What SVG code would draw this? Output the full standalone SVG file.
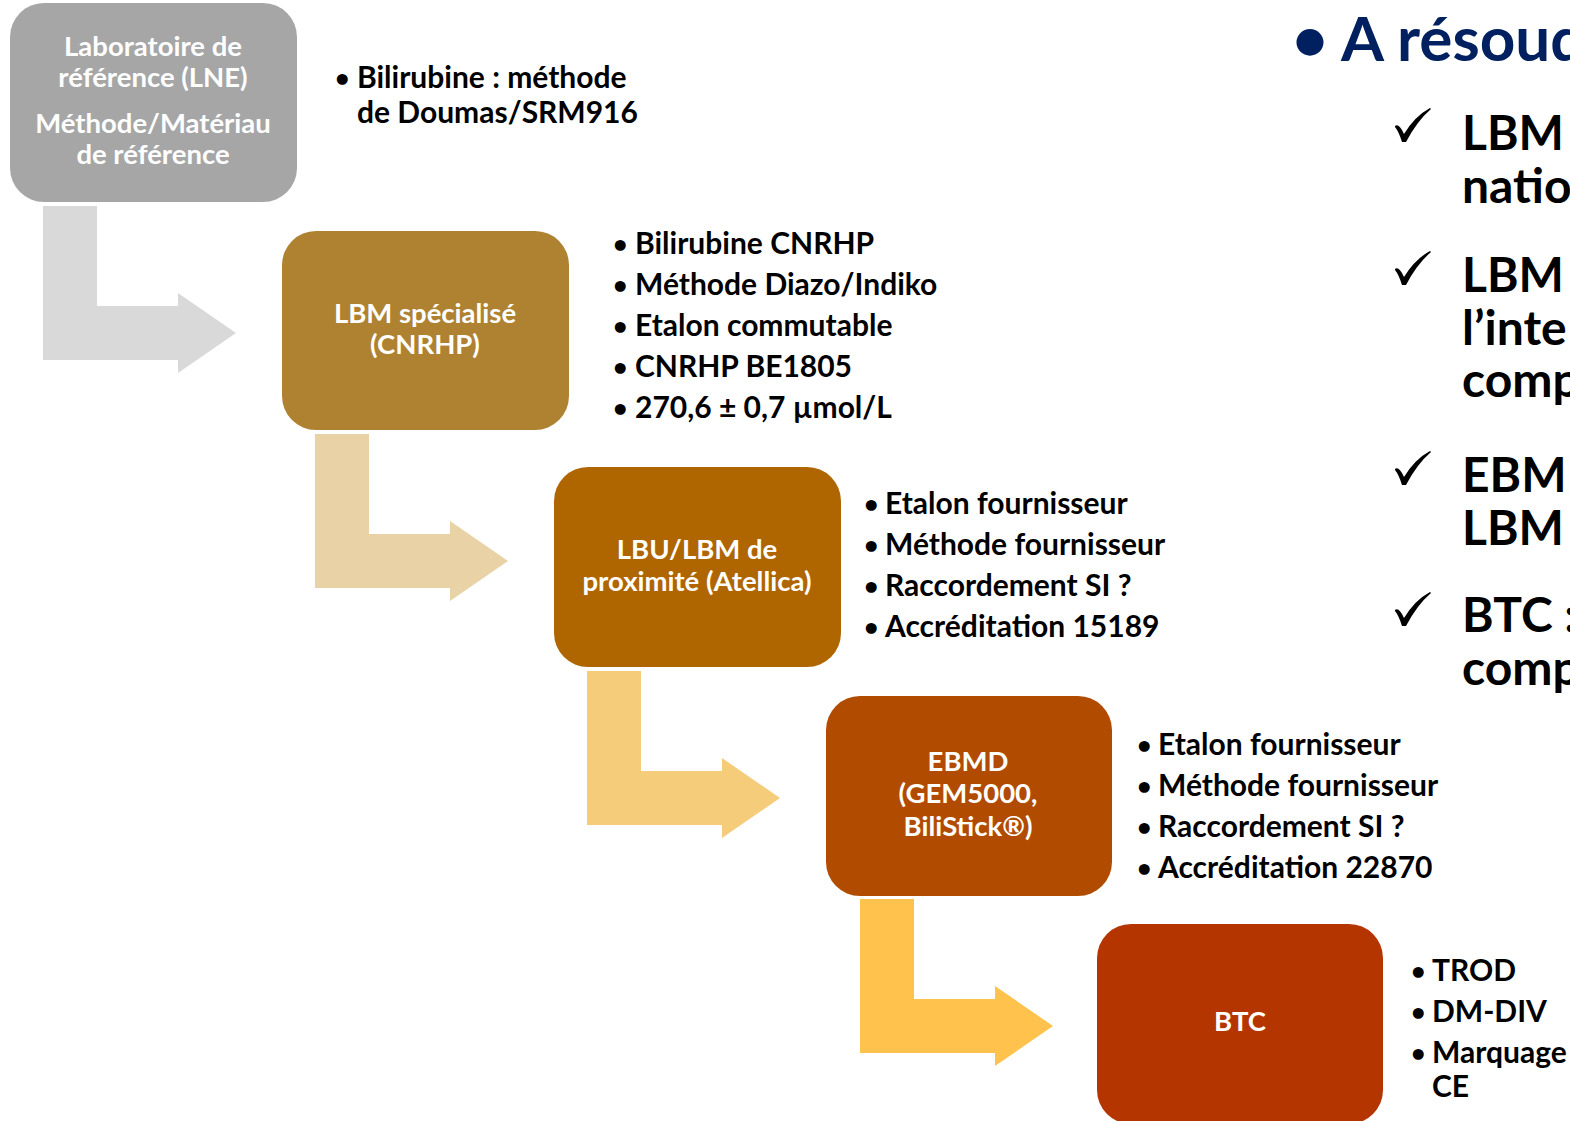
<svg xmlns="http://www.w3.org/2000/svg" width="1570" height="1121" viewBox="0 0 1570 1121">
<style>
.bx{font-family:Lato,"Open Sans","DejaVu Sans",sans-serif;font-weight:bold;font-size:27.5px;fill:#fff;text-anchor:middle}
.bl{font-family:Lato,"Open Sans","DejaVu Sans",sans-serif;font-weight:bold;font-size:30px;fill:#000}
.bu{font-family:Lato,"Open Sans","DejaVu Sans",sans-serif;font-weight:bold;font-size:25px;fill:#000}
.rt{font-family:Lato,"Open Sans","DejaVu Sans",sans-serif;font-weight:bold;font-size:48px;fill:#000}
.hd{font-family:Lato,"Open Sans","DejaVu Sans",sans-serif;font-weight:bold;font-size:62px;fill:#002060}
.ck{fill:#000}
</style>
<defs>
<path id="arr" d="M0,0 H54 V100 H135 V87 L193,127 L135,167 V154 H0 Z"/>
<path id="chk" d="M0,18 Q4,15 9,26 Q20,8 35,0 L36,1 Q22,13 11,34 L7,34 Q4,24 0,19 Z"/>
</defs>
<rect width="1570" height="1121" fill="#fff"/>
<g id="connectors">
<use href="#arr" x="43" y="206" fill="#D9D9D9"/>
<use href="#arr" x="315" y="434" fill="#E9D3A6"/>
<use href="#arr" x="587" y="671" fill="#F5CC7A"/>
<use href="#arr" x="860" y="899" fill="#FFC34D"/>
</g>
<g id="node-lne">
<rect x="10" y="3" width="287" height="199" rx="34" fill="#A6A6A6"/>
<text class="bx" x="153" y="56">Laboratoire de</text>
<text class="bx" x="153" y="87">référence (LNE)</text>
<text class="bx" x="153" y="133">Méthode/Matériau</text>
<text class="bx" x="153" y="164">de référence</text>
</g>
<g id="list-lne">
<text class="bu" x="335" y="87">•</text><text class="bl" x="357" y="88">Bilirubine : méthode</text>
<text class="bl" x="357" y="123">de Doumas/SRM916</text>
</g>
<g id="node-cnrhp">
<rect x="282" y="231" width="287" height="199" rx="34" fill="#AE8230"/>
<text class="bx" x="425" y="323">LBM spécialisé</text>
<text class="bx" x="425" y="354">(CNRHP)</text>
</g>
<g id="list-cnrhp">
<text class="bu" x="613" y="253">•</text><text class="bl" x="635" y="254">Bilirubine CNRHP</text>
<text class="bu" x="613" y="294">•</text><text class="bl" x="635" y="295">Méthode Diazo/Indiko</text>
<text class="bu" x="613" y="335">•</text><text class="bl" x="635" y="336">Etalon commutable</text>
<text class="bu" x="613" y="376">•</text><text class="bl" x="635" y="377">CNRHP BE1805</text>
<text class="bu" x="613" y="417">•</text><text class="bl" x="635" y="418">270,6 ± 0,7 µmol/L</text>
</g>
<g id="node-lbu">
<rect x="554" y="467" width="287" height="200" rx="34" fill="#AF6500"/>
<text class="bx" x="697" y="559">LBU/LBM de</text>
<text class="bx" x="697" y="591">proximité (Atellica)</text>
</g>
<g id="list-lbu">
<text class="bu" x="864" y="513">•</text><text class="bl" x="885" y="514">Etalon fournisseur</text>
<text class="bu" x="864" y="554">•</text><text class="bl" x="885" y="555">Méthode fournisseur</text>
<text class="bu" x="864" y="595">•</text><text class="bl" x="885" y="596">Raccordement SI ?</text>
<text class="bu" x="864" y="636">•</text><text class="bl" x="885" y="637">Accréditation 15189</text>
</g>
<g id="node-ebmd">
<rect x="826" y="696" width="286" height="200" rx="34" fill="#B14B00"/>
<text class="bx" x="968" y="771">EBMD</text>
<text class="bx" x="968" y="803">(GEM5000,</text>
<text class="bx" x="968" y="836">BiliStick®)</text>
</g>
<g id="list-ebmd">
<text class="bu" x="1137" y="754">•</text><text class="bl" x="1158" y="755">Etalon fournisseur</text>
<text class="bu" x="1137" y="795">•</text><text class="bl" x="1158" y="796">Méthode fournisseur</text>
<text class="bu" x="1137" y="836">•</text><text class="bl" x="1158" y="837">Raccordement SI ?</text>
<text class="bu" x="1137" y="877">•</text><text class="bl" x="1158" y="878">Accréditation 22870</text>
</g>
<g id="node-btc">
<rect x="1097" y="924" width="286" height="200" rx="34" fill="#B43500"/>
<text class="bx" x="1240" y="1031">BTC</text>
</g>
<g id="list-btc">
<text class="bu" x="1411" y="980">•</text><text class="bl" x="1432" y="981">TROD</text>
<text class="bu" x="1411" y="1021">•</text><text class="bl" x="1432" y="1022">DM-DIV</text>
<text class="bu" x="1411" y="1062">•</text><text class="bl" x="1432" y="1063">Marquage</text>
<text class="bl" x="1432" y="1097">CE</text>
</g>
<g id="resoudre">
<text class="hd" x="1292" y="61">•</text><text class="hd" x="1341" y="61">A résoudre</text>
<use href="#chk" class="ck" x="1395" y="108"/>
<text class="rt" x="1462" y="150">LBM</text>
<text class="rt" x="1462" y="203">natio</text>
<use href="#chk" class="ck" x="1395" y="251"/>
<text class="rt" x="1462" y="292">LBM</text>
<text class="rt" x="1462" y="345">l’inte</text>
<text class="rt" x="1462" y="397">comp</text>
<use href="#chk" class="ck" x="1395" y="451"/>
<text class="rt" x="1462" y="492">EBMD</text>
<text class="rt" x="1462" y="545">LBM</text>
<use href="#chk" class="ck" x="1395" y="592"/>
<text class="rt" x="1462" y="632">BTC :</text>
<text class="rt" x="1462" y="685">comp</text>
</g>
</svg>
